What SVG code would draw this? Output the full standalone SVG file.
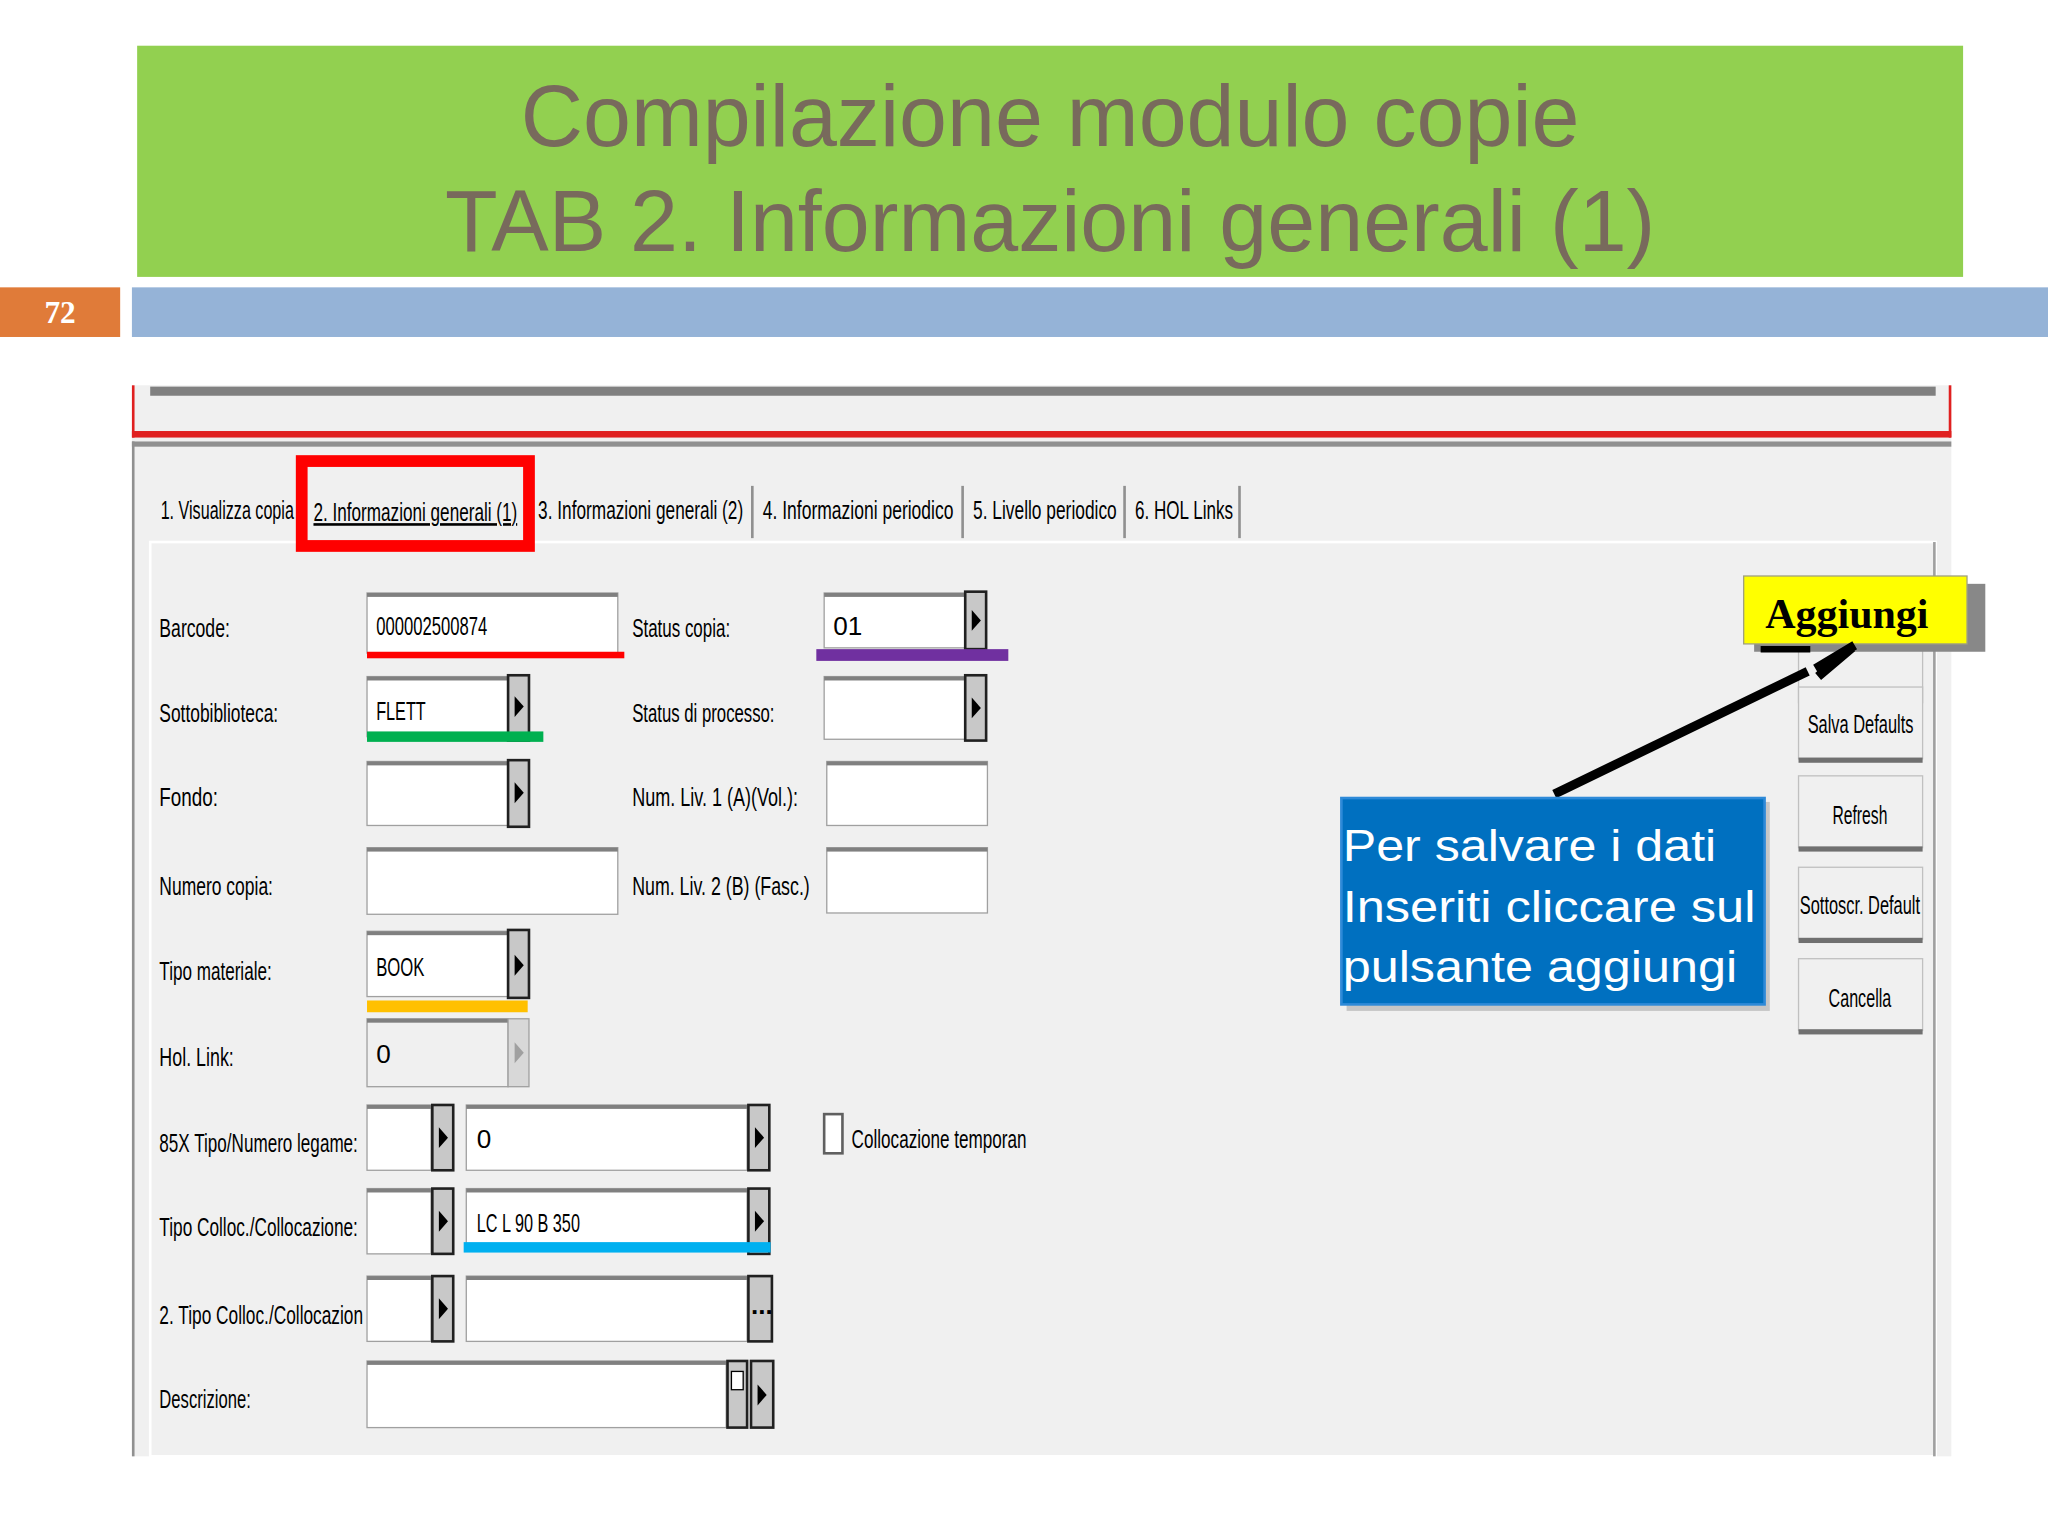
<svg xmlns="http://www.w3.org/2000/svg" width="2048" height="1536" viewBox="0 0 2048 1536">
<style>
.t{font-family:"Liberation Sans",Arial,sans-serif;font-size:20px;fill:#000}
.ti{font-family:"Liberation Sans",Arial,sans-serif;font-size:66px;fill:#786a5c;text-anchor:middle}
.f{fill:#fff;stroke:#a0a0a0;stroke-width:1}
.ft{fill:#808080}
.b{fill:#c8c8c8;stroke:#202020;stroke-width:2}
.bt{fill:#f0f0f0;stroke:#c0c0c0;stroke-width:1}
.bb{fill:#707070}
</style>
<rect width="2048" height="1536" fill="#fff"/>
<g transform="scale(1.30612)">
<g id="title">
<rect x="105" y="35" width="1398" height="177" fill="#92d050"/>
<text class="ti" x="804" y="112">Compilazione modulo copie</text>
<text class="ti" x="804" y="192">TAB 2. Informazioni generali (1)</text>
</g>
<g id="bar">
<rect x="0" y="220" width="92" height="38" fill="#e07b39"/>
<text x="46" y="247" font-family="Liberation Serif,serif" font-weight="bold" font-size="24" fill="#fff" text-anchor="middle">72</text>
<rect x="101" y="220" width="1467" height="38" fill="#95b3d7"/>
</g>
<g id="screen">
<rect x="101" y="295" width="1393" height="820" fill="#f0f0f0"/>
<rect x="115" y="296" width="1367" height="7" fill="#808080"/>
<rect x="101" y="330" width="1393" height="5" fill="#e02020"/>
<rect x="101" y="295" width="2" height="40" fill="#e02020"/>
<rect x="1492" y="295" width="2" height="40" fill="#e02020"/>
<rect x="101" y="338" width="1393" height="4" fill="#909090"/>
<rect x="101" y="338" width="2" height="777" fill="#909090"/>
<rect x="115" y="415" width="1367" height="700" fill="#f0f0f0" stroke="#ffffff" stroke-width="2"/>
<rect x="1480" y="415" width="2" height="700" fill="#a0a0a0"/>
<g id="tabs">
<text class="t" x="123" y="397" textLength="102" lengthAdjust="spacingAndGlyphs">1. Visualizza copia</text>
<text class="t" x="240" y="399" textLength="156" lengthAdjust="spacingAndGlyphs" text-decoration="underline">2. Informazioni generali (1)</text>
<rect x="231" y="353" width="174" height="65" fill="none" stroke="#ff0000" stroke-width="9"/>
<text class="t" x="412" y="397" textLength="157" lengthAdjust="spacingAndGlyphs">3. Informazioni generali (2)</text>
<rect x="575" y="372" width="2" height="40" fill="#909090"/>
<text class="t" x="584" y="397" textLength="146" lengthAdjust="spacingAndGlyphs">4. Informazioni periodico</text>
<rect x="736" y="372" width="2" height="40" fill="#909090"/>
<text class="t" x="745" y="397" textLength="110" lengthAdjust="spacingAndGlyphs">5. Livello periodico</text>
<rect x="860" y="372" width="2" height="40" fill="#909090"/>
<text class="t" x="869" y="397" textLength="75" lengthAdjust="spacingAndGlyphs">6. HOL Links</text>
<rect x="948" y="372" width="2" height="40" fill="#909090"/>
</g>
<g id="labels">
<text class="t" x="122" y="488" textLength="54" lengthAdjust="spacingAndGlyphs">Barcode:</text>
<text class="t" x="122" y="553" textLength="91" lengthAdjust="spacingAndGlyphs">Sottobiblioteca:</text>
<text class="t" x="122" y="617" textLength="45" lengthAdjust="spacingAndGlyphs">Fondo:</text>
<text class="t" x="122" y="685" textLength="87" lengthAdjust="spacingAndGlyphs">Numero copia:</text>
<text class="t" x="122" y="750" textLength="86" lengthAdjust="spacingAndGlyphs">Tipo materiale:</text>
<text class="t" x="122" y="816" textLength="57" lengthAdjust="spacingAndGlyphs">Hol. Link:</text>
<text class="t" x="122" y="882" textLength="152" lengthAdjust="spacingAndGlyphs">85X Tipo/Numero legame:</text>
<text class="t" x="122" y="946" textLength="152" lengthAdjust="spacingAndGlyphs">Tipo Colloc./Collocazione:</text>
<text class="t" x="122" y="1014" textLength="156" lengthAdjust="spacingAndGlyphs">2. Tipo Colloc./Collocazion</text>
<text class="t" x="122" y="1078" textLength="70" lengthAdjust="spacingAndGlyphs">Descrizione:</text>
<text class="t" x="484" y="488" textLength="75" lengthAdjust="spacingAndGlyphs">Status copia:</text>
<text class="t" x="484" y="553" textLength="109" lengthAdjust="spacingAndGlyphs">Status di processo:</text>
<text class="t" x="484" y="617" textLength="127" lengthAdjust="spacingAndGlyphs">Num. Liv. 1 (A)(Vol.):</text>
<text class="t" x="484" y="685" textLength="136" lengthAdjust="spacingAndGlyphs">Num. Liv. 2  (B) (Fasc.)</text>
</g>
<g id="fields">
<!-- barcode -->
<rect class="f" x="281" y="454" width="192" height="46"/><rect class="ft" x="281" y="454" width="192" height="3"/>
<text class="t" x="288" y="486" textLength="85" lengthAdjust="spacingAndGlyphs">000002500874</text>
<rect x="281" y="499" width="197" height="5" fill="#ff0000"/>
<!-- status copia -->
<rect class="f" x="631" y="454" width="108" height="42"/><rect class="ft" x="631" y="454" width="108" height="3"/>
<rect class="b" x="739" y="453" width="16" height="44"/><path d="M744 467 L751 475 L744 483Z"/>
<text class="t" x="638" y="486">01</text>
<rect x="625" y="497" width="147" height="9" fill="#7030a0"/>
<!-- sottobiblioteca -->
<rect class="f" x="281" y="518" width="108" height="46"/><rect class="ft" x="281" y="518" width="108" height="3"/>
<rect class="b" x="389" y="517" width="16" height="50"/><path d="M394 533 L401 541 L394 549Z"/>
<text class="t" x="288" y="551" textLength="38" lengthAdjust="spacingAndGlyphs">FLETT</text>
<rect x="281" y="560" width="135" height="8" fill="#00b050"/>
<!-- status di processo -->
<rect class="f" x="631" y="518" width="108" height="48"/><rect class="ft" x="631" y="518" width="108" height="3"/>
<rect class="b" x="739" y="517" width="16" height="50"/><path d="M744 534 L751 542 L744 550Z"/>
<!-- fondo -->
<rect class="f" x="281" y="583" width="108" height="49"/><rect class="ft" x="281" y="583" width="108" height="3"/>
<rect class="b" x="389" y="582" width="16" height="51"/><path d="M394 599 L401 607 L394 615Z"/>
<!-- num liv 1 -->
<rect class="f" x="633" y="583" width="123" height="49"/><rect class="ft" x="633" y="583" width="123" height="3"/>
<!-- numero copia -->
<rect class="f" x="281" y="649" width="192" height="51"/><rect class="ft" x="281" y="649" width="192" height="3"/>
<!-- num liv 2 -->
<rect class="f" x="633" y="649" width="123" height="50"/><rect class="ft" x="633" y="649" width="123" height="3"/>
<!-- tipo materiale -->
<rect class="f" x="281" y="713" width="108" height="50"/><rect class="ft" x="281" y="713" width="108" height="3"/>
<rect class="b" x="389" y="712" width="16" height="52"/><path d="M394 731 L401 739 L394 747Z"/>
<text class="t" x="288" y="747" textLength="37" lengthAdjust="spacingAndGlyphs">BOOK</text>
<rect x="281" y="766" width="123" height="9" fill="#ffc000"/>
<!-- hol link -->
<rect x="281" y="780" width="108" height="52" fill="#f0f0f0" stroke="#a0a0a0"/><rect class="ft" x="281" y="780" width="108" height="3"/>
<rect x="389" y="780" width="16" height="52" fill="#d8d8d8" stroke="#a0a0a0"/><path d="M394 798 L401 806 L394 814Z" fill="#a0a0a0"/>
<text class="t" x="288" y="814">0</text>
<!-- 85X -->
<rect class="f" x="281" y="846" width="49" height="50"/><rect class="ft" x="281" y="846" width="49" height="3"/>
<rect class="b" x="331" y="846" width="16" height="50"/><path d="M336 863 L343 871 L336 879Z"/>
<rect class="f" x="357" y="846" width="215" height="50"/><rect class="ft" x="357" y="846" width="215" height="3"/>
<rect class="b" x="573" y="846" width="16" height="50"/><path d="M578 863 L585 871 L578 879Z"/>
<text class="t" x="365" y="879">0</text>
<rect x="631" y="853" width="14" height="30" fill="#fff" stroke="#606060" stroke-width="2"/>
<text class="t" x="652" y="879" textLength="134" lengthAdjust="spacingAndGlyphs">Collocazione temporan</text>
<!-- tipo colloc -->
<rect class="f" x="281" y="910" width="49" height="50"/><rect class="ft" x="281" y="910" width="49" height="3"/>
<rect class="b" x="331" y="910" width="16" height="50"/><path d="M336 927 L343 935 L336 943Z"/>
<rect class="f" x="357" y="910" width="215" height="46"/><rect class="ft" x="357" y="910" width="215" height="3"/>
<rect class="b" x="573" y="910" width="16" height="50"/><path d="M578 927 L585 935 L578 943Z"/>
<text class="t" x="365" y="943" textLength="79" lengthAdjust="spacingAndGlyphs">LC L 90 B 350</text>
<rect x="355" y="951" width="235" height="8" fill="#00b0f0"/>
<!-- 2. tipo colloc -->
<rect class="f" x="281" y="977" width="49" height="50"/><rect class="ft" x="281" y="977" width="49" height="3"/>
<rect class="b" x="331" y="977" width="16" height="50"/><path d="M336 994 L343 1002 L336 1010Z"/>
<rect class="f" x="357" y="977" width="215" height="50"/><rect class="ft" x="357" y="977" width="215" height="3"/>
<rect class="b" x="573" y="977" width="18" height="50"/>
<text class="t" x="575" y="1006" font-weight="bold" font-size="14">...</text>
<!-- descrizione -->
<rect class="f" x="281" y="1042" width="275" height="51"/><rect class="ft" x="281" y="1042" width="275" height="3"/>
<rect class="b" x="557" y="1042" width="15" height="51"/>
<rect x="560" y="1050" width="9" height="14" fill="#fff" stroke="#000"/>
<rect class="b" x="575" y="1042" width="17" height="51"/><path d="M580 1060 L587 1068 L580 1076Z"/>
</g>
<g id="buttons">
<rect class="bt" x="1377" y="493" width="95" height="45"/><rect class="bb" x="1377" y="536" width="95" height="4"/>
<rect class="bt" x="1377" y="526" width="95" height="55"/><rect class="bb" x="1377" y="580" width="95" height="4"/>
<text class="t" x="1384" y="561" textLength="81" lengthAdjust="spacingAndGlyphs">Salva Defaults</text>
<rect class="bt" x="1377" y="594" width="95" height="55"/><rect class="bb" x="1377" y="648" width="95" height="4"/>
<text class="t" x="1403" y="631" textLength="42" lengthAdjust="spacingAndGlyphs">Refresh</text>
<rect class="bt" x="1377" y="664" width="95" height="55"/><rect class="bb" x="1377" y="718" width="95" height="4"/>
<text class="t" x="1378" y="700" fill="#909090" textLength="92" lengthAdjust="spacingAndGlyphs">Sottoscr. Default</text>
<rect class="bt" x="1377" y="734" width="95" height="55"/><rect class="bb" x="1377" y="788" width="95" height="4"/>
<text class="t" x="1400" y="771" fill="#909090" textLength="48" lengthAdjust="spacingAndGlyphs">Cancella</text>
</g>
</g>
<g id="aggiungi">
<rect x="1343" y="447" width="177" height="52" fill="#888"/>
<rect x="1335" y="441" width="171" height="52" fill="#ffff00" stroke="#a0a080"/>
<text x="1414" y="481" font-family="Liberation Serif,serif" font-weight="bold" font-size="32" text-anchor="middle" textLength="125" lengthAdjust="spacingAndGlyphs">Aggiungi</text>
</g>
<g id="connectors">
<path d="M1190 608 L1384 514" stroke="#000" stroke-width="7" fill="none"/>
<path d="M1390 512 L1420 494 M1392 518 L1418 496" stroke="#000" stroke-width="7" fill="none"/>
<path d="M1348 497 L1386 497" stroke="#000" stroke-width="5"/>
</g>
<g id="note">
<rect x="1031" y="614" width="324" height="160" fill="#aaa" opacity="0.6"/>
<rect x="1027" y="611" width="324" height="158" fill="#0070c0" stroke="#2e8ad8" stroke-width="2"/>
<g font-family="Liberation Sans,Arial,sans-serif" font-size="34" fill="#fff">
<text x="1028" y="659" textLength="286" lengthAdjust="spacingAndGlyphs">Per salvare i dati</text>
<text x="1028" y="706" textLength="316" lengthAdjust="spacingAndGlyphs">Inseriti cliccare sul</text>
<text x="1028" y="752" textLength="302" lengthAdjust="spacingAndGlyphs">pulsante aggiungi</text>
</g>
</g>
</g>
</svg>
